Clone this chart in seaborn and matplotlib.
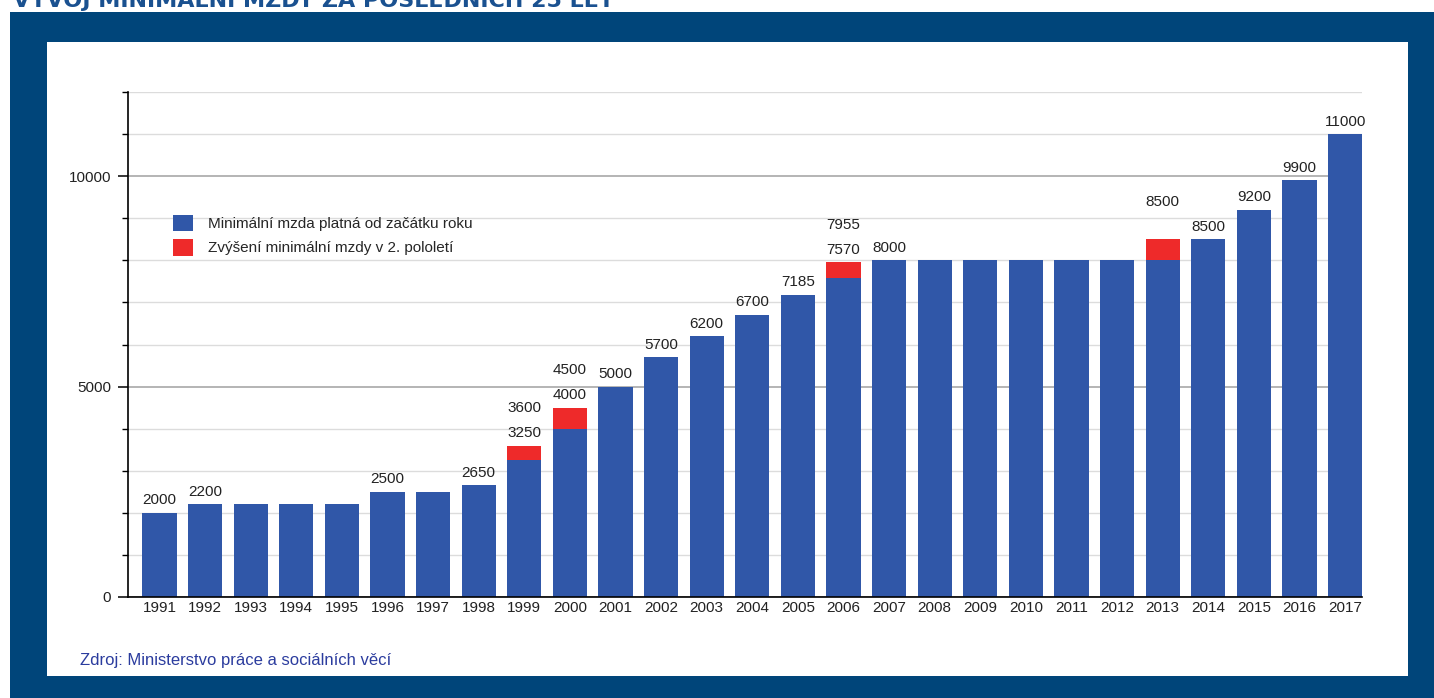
import pandas as pd
import seaborn as sns
import matplotlib.pyplot as plt
from matplotlib.patches import Rectangle, Patch
from matplotlib.ticker import MultipleLocator

years = [str(y) for y in range(1991, 2018)]
base = [2000, 2200, 2200, 2200, 2200, 2500, 2500, 2650, 3250, 4000,
        5000, 5700, 6200, 6700, 7185, 7570, 8000, 8000, 8000, 8000,
        8000, 8000, 8000, 8500, 9200, 9900, 11000]
# raise in the second half of the year
raise2 = [0, 0, 0, 0, 0, 0, 0, 0, 350, 500,
          0, 0, 0, 0, 0, 385, 0, 0, 0, 0,
          0, 0, 500, 0, 0, 0, 0]
# labels above bars (lower / upper), None = no label
label_low = [2000, 2200, None, None, None, 2500, None, 2650, 3250, 4000,
             5000, 5700, 6200, 6700, 7185, 7570, 8000, None, None, None,
             None, None, None, 8500, 9200, 9900, 11000]
label_high = [None] * 8 + [3600, 4500] + [None] * 5 + [7955] + [None] * 6 + [8500] + [None] * 4

legend_labels = ["Minimální mzda platná od začátku roku",
                 "Zvýšení minimální mzdy v 2. pololetí"]

BLUE = "#3057a8"
RED = "#ee2a2a"
FRAME = "#00457a"

df = pd.DataFrame({"year": years, "base": base,
                   "total": [b + r for b, r in zip(base, raise2)]})

sns.set_style("white")
plt.rcParams["font.family"] = ["Liberation Sans", "DejaVu Sans"]

fig = plt.figure(figsize=(14.34, 6.98), dpi=100)
fig.add_artist(Rectangle((10 / 1434, 0), 1, 1 - 12 / 698, transform=fig.transFigure,
                         facecolor=FRAME, edgecolor="none", zorder=-10))
fig.add_artist(Rectangle((47 / 1434, 1 - 676 / 698), (1408 - 47) / 1434, (676 - 42) / 698,
                         transform=fig.transFigure, facecolor="white",
                         edgecolor="none", zorder=-9))
# title is cut off by the top edge in the reference
fig.text(13 / 1434, 1 - 7 / 698, "VÝVOJ MINIMÁLNÍ MZDY ZA POSLEDNÍCH 25 LET",
         family=["DejaVu Sans"], fontweight="bold", fontsize=16, color="#1a5190",
         ha="left", va="baseline")

ax = fig.add_axes([128 / 1434, 1 - 597 / 698, (1362 - 128) / 1434, (597 - 92) / 698])
ax.set_facecolor("none")

sns.barplot(data=df, x="year", y="total", color=RED, width=0.75, saturation=1,
            linewidth=0, ax=ax, zorder=2)
sns.barplot(data=df, x="year", y="base", color=BLUE, width=0.75, saturation=1,
            linewidth=0, ax=ax, zorder=3)

for i in range(len(years)):
    top = df["total"][i]
    if label_low[i] is not None:
        ax.annotate(str(label_low[i]), (i, top), xytext=(0, 4), textcoords="offset points",
                    ha="center", va="bottom", fontsize=11, color="#222222")
    if label_high[i] is not None:
        ax.annotate(str(label_high[i]), (i, top), xytext=(0, 22), textcoords="offset points",
                    ha="center", va="bottom", fontsize=11, color="#222222")

ax.set_xlim(-0.69, 26.37)
ax.set_ylim(0, 12000)
ax.yaxis.set_major_locator(MultipleLocator(5000))
ax.yaxis.set_minor_locator(MultipleLocator(1000))
ax.grid(axis="y", which="minor", color="#dcdcdc", linewidth=1)
ax.grid(axis="y", which="major", color="#a8a8a8", linewidth=1.2)
ax.set_axisbelow(True)
ax.tick_params(axis="y", which="major", length=7, width=1.1, color="black",
               left=True, labelsize=11, labelcolor="#222222", pad=5)
ax.tick_params(axis="y", which="minor", length=4.5, width=1, color="black", left=True)
ax.tick_params(axis="x", length=0, labelsize=11, labelcolor="#222222", pad=3)
ax.set_xlabel("")
ax.set_ylabel("")
for s in ["top", "right"]:
    ax.spines[s].set_visible(False)
for s in ["left", "bottom"]:
    ax.spines[s].set_color("black")
    ax.spines[s].set_linewidth(1.2)
    ax.spines[s].set_zorder(4)

handles = [Patch(facecolor=BLUE, edgecolor="none"), Patch(facecolor=RED, edgecolor="none")]
ax.legend(handles, legend_labels, loc="upper left", bbox_to_anchor=(0.0365, 0.757),
          frameon=False, fontsize=11, borderpad=0, borderaxespad=0,
          handlelength=1.3, handleheight=1.3, handletextpad=1.0, labelspacing=0.5)

fig.text(80 / 1434, 1 - 660 / 698, "Zdroj: Ministerstvo práce a sociálních věcí",
         fontsize=12, color="#2b3c9e", ha="left", va="center")

fig.savefig("out.png", dpi=100)
